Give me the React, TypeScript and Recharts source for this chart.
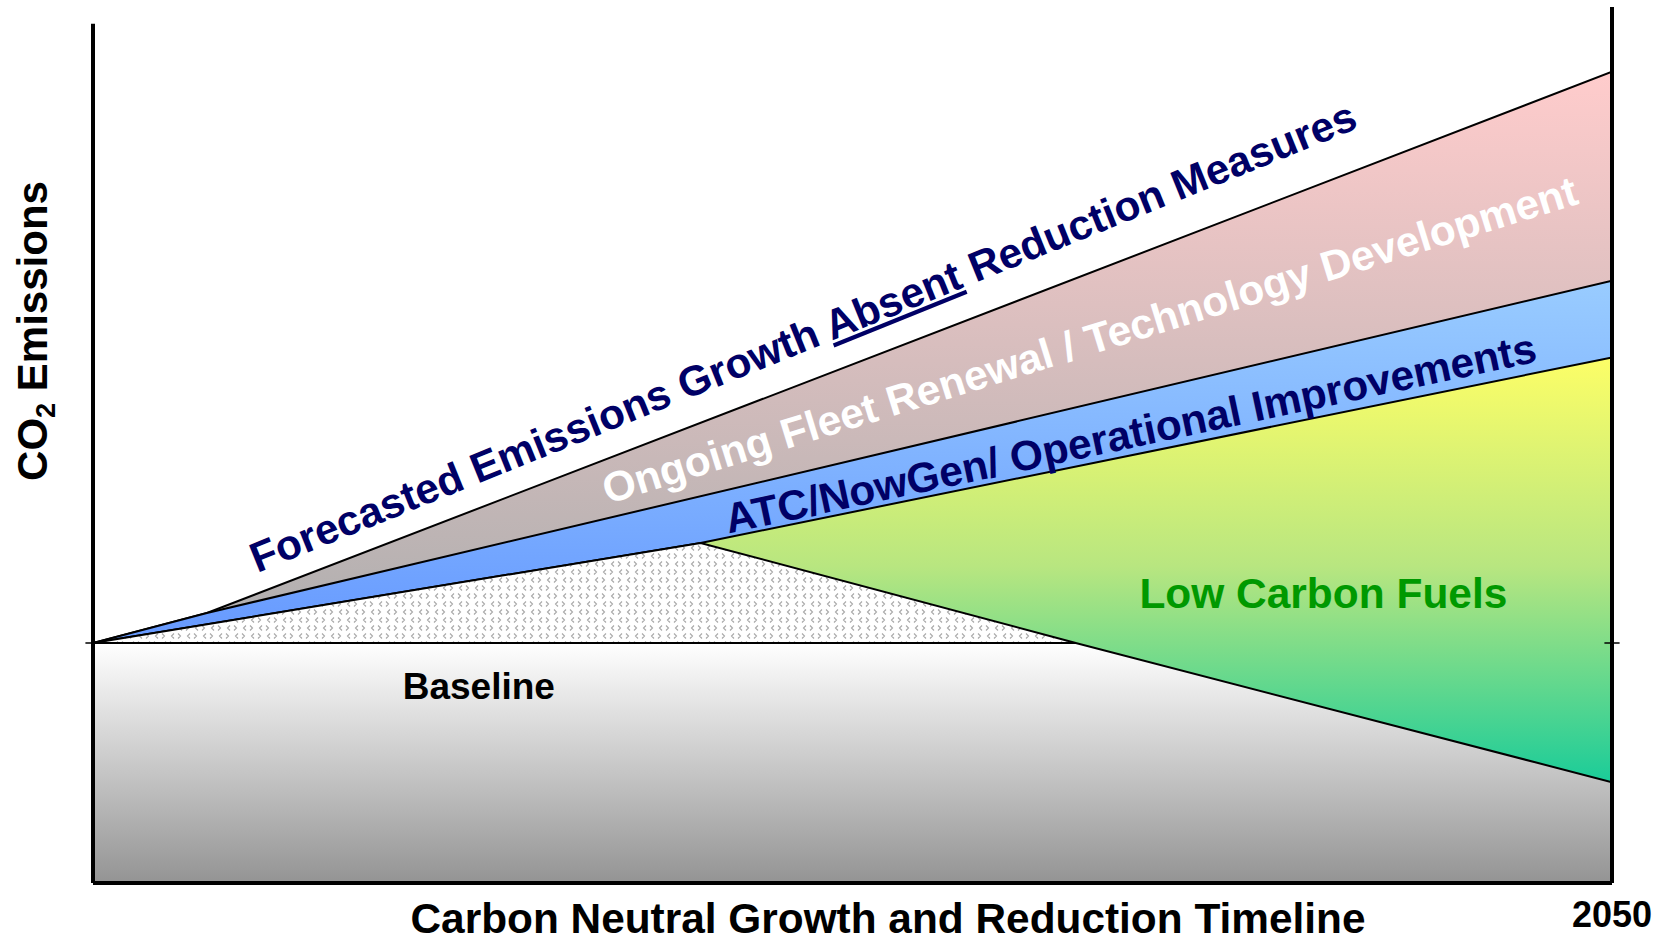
import React from 'react';
import { ComposedChart, Area, XAxis, YAxis, ReferenceLine, ReferenceDot } from 'recharts';

// timeline: 0 = today, 100 = 2050. emissions measured from the baseline (0)
const forecastYears = [0, 7.5, 100];
const forecastEmissions = [0, 12.5, 238];
const fleetYears = [0, 7.5, 100];
const fleetEmissions = [0, 12.5, 151];
const atcYears = [0, 40, 100];
const atcEmissions = [0, 41.7, 119];
const netYears = [0, 40, 64.7, 100];
const netEmissions = [0, 41.7, 0, -58];
const tickYears = [100];
const tickLabels = ['2050'];

const toPoints = (xs: number[], ys: number[]) => xs.map((x, i) => ({ x, y: ys[i] }));

const forecast = toPoints(forecastYears, forecastEmissions);
const fleet = toPoints(fleetYears, fleetEmissions);
const atc = toPoints(atcYears, atcEmissions);
const net = toPoints(netYears, netEmissions);
const hatched = net.filter((p) => p.y >= 0);
const belowBaseline = net.map((p) => ({ x: p.x, y: Math.min(p.y, 0) }));

const FONT = '"Liberation Sans", Arial, Helvetica, sans-serif';
const NAVY = '#000066';

const slanted = (angle: number, color: string, size: number, length: number, content: React.ReactNode) =>
  (p: any) => (
    <text
      x={p.cx}
      y={p.cy}
      transform={`rotate(${-angle} ${p.cx} ${p.cy})`}
      textAnchor="middle"
      fill={color}
      fontSize={size}
      fontWeight="bold"
      fontFamily={FONT}
      textLength={length || undefined}
      lengthAdjust="spacingAndGlyphs"
    >
      {content}
    </text>
  );

const areaProps = {
  type: 'linear' as const,
  dataKey: 'y',
  fillOpacity: 1,
  stroke: '#000',
  strokeWidth: 2,
  isAnimationActive: false,
  dot: false,
  activeDot: false,
};

export default function App() {
  return (
    <div style={{ position: 'absolute', left: 0, top: 0, width: 1662, height: 943, overflow: 'hidden', background: '#fff' }}>
      <ComposedChart width={1662} height={943} margin={{ top: 7, right: 50, bottom: 0, left: 93 }}>
        <defs>
          <linearGradient id="pinkFill" gradientUnits="userSpaceOnUse" x1="0" y1="72" x2="0" y2="613">
            <stop offset="0" stopColor="#ffcccc" />
            <stop offset="1" stopColor="#b2b0b0" />
          </linearGradient>
          <linearGradient id="blueFill" gradientUnits="userSpaceOnUse" x1="0" y1="281" x2="0" y2="643">
            <stop offset="0" stopColor="#99ccff" />
            <stop offset="1" stopColor="#6699ff" />
          </linearGradient>
          <linearGradient id="greenFill" gradientUnits="userSpaceOnUse" x1="0" y1="350" x2="0" y2="783">
            <stop offset="0" stopColor="#ffff66" />
            <stop offset="0.5" stopColor="#b8e680" />
            <stop offset="1" stopColor="#1acc99" />
          </linearGradient>
          <linearGradient id="grayFill" gradientUnits="userSpaceOnUse" x1="0" y1="643" x2="0" y2="880">
            <stop offset="0" stopColor="#ffffff" />
            <stop offset="1" stopColor="#959595" />
          </linearGradient>
          <pattern id="hatch" patternUnits="userSpaceOnUse" width="16" height="16">
            <rect width="16" height="16" fill="#ffffff" />
            <path
              d="M6 1.5 L3.5 4 L6 6.5 M10 1.5 L12.5 4 L10 6.5 M2 9.5 L4.5 12 L2 14.5 M14 9.5 L11.5 12 L14 14.5"
              stroke="#a8a8a8"
              strokeWidth="1.1"
              fill="none"
            />
          </pattern>
        </defs>
        <XAxis
          type="number"
          dataKey="x"
          domain={[0, 100]}
          ticks={tickYears}
          tickFormatter={(v) => tickLabels[tickYears.indexOf(v)] ?? ''}
          tickLine={false}
          tickSize={0}
          tickMargin={18}
          height={60}
          axisLine={{ stroke: '#000', strokeWidth: 4 }}
          tick={{ fill: '#000', fontSize: 36, fontWeight: 'bold', fontFamily: FONT }}
          allowDataOverflow
          label={{
            content: ({ viewBox }: any) => (
              <text
                x={viewBox.x + 795}
                y={viewBox.y + 50}
                textAnchor="middle"
                fill="#000"
                fontSize={43}
                fontWeight="bold"
                fontFamily={FONT}
                textLength={955}
                lengthAdjust="spacingAndGlyphs"
              >
                Carbon Neutral Growth and Reduction Timeline
              </text>
            ),
          }}
        />
        <YAxis type="number" dataKey="y" domain={[-100, 265]} width={0} tick={false} axisLine={false} tickLine={false} allowDataOverflow />

        <Area {...areaProps} data={forecast} baseValue={0} fill="url(#pinkFill)" />
        <Area {...areaProps} data={fleet} baseValue={0} fill="url(#blueFill)" />
        <Area {...areaProps} data={atc} baseValue={-100} fill="url(#greenFill)" />
        <Area {...areaProps} data={hatched} baseValue={0} fill="url(#hatch)" />
        <Area {...areaProps} data={belowBaseline} baseValue={-100} fill="url(#grayFill)" />

        <ReferenceLine segment={[{ x: -0.5, y: 0 }, { x: 0.5, y: 0 }]} stroke="#000" strokeWidth={1.5} ifOverflow="visible" />
        <ReferenceLine segment={[{ x: 99.5, y: 0 }, { x: 100.5, y: 0 }]} stroke="#000" strokeWidth={1.5} ifOverflow="visible" />
        <ReferenceLine segment={[{ x: 0, y: -100 }, { x: 0, y: 258 }]} stroke="#000" strokeWidth={4} ifOverflow="visible" />
        <ReferenceLine segment={[{ x: 100, y: -100 }, { x: 100, y: 265 }]} stroke="#000" strokeWidth={4} ifOverflow="visible" />

        <ReferenceDot
          x={-3.05}
          y={130}
          ifOverflow="visible"
          shape={slanted(90, '#000000', 42, 0, (
            <>
              CO<tspan fontSize={27} dy={8}>2</tspan>
              <tspan dy={-8}> Emissions</tspan>
            </>
          ))}
        />
        <ReferenceDot
          x={47.1}
          y={122}
          ifOverflow="visible"
          shape={slanted(22, NAVY, 42, 1189, (
            <>
              Forecasted Emissions Growth <tspan style={{ textDecoration: 'underline' }}>Absent</tspan> Reduction Measures
            </>
          ))}
        />
        <ReferenceDot x={65.9} y={120.5} ifOverflow="visible" shape={slanted(17.2, '#ffffff', 42, 1018, 'Ongoing Fleet Renewal / Technology Development')} />
        <ReferenceDot x={68.5} y={81.5} ifOverflow="visible" shape={slanted(12.0, NAVY, 42, 828, 'ATC/NowGen/ Operational Improvements')} />
        <ReferenceDot x={81} y={14.5} ifOverflow="visible" shape={slanted(0, '#009900', 43, 368, 'Low Carbon Fuels')} />
        <ReferenceDot x={25.4} y={-23.3} ifOverflow="visible" shape={slanted(0, '#000000', 37, 0, 'Baseline')} />
      </ComposedChart>
    </div>
  );
}
